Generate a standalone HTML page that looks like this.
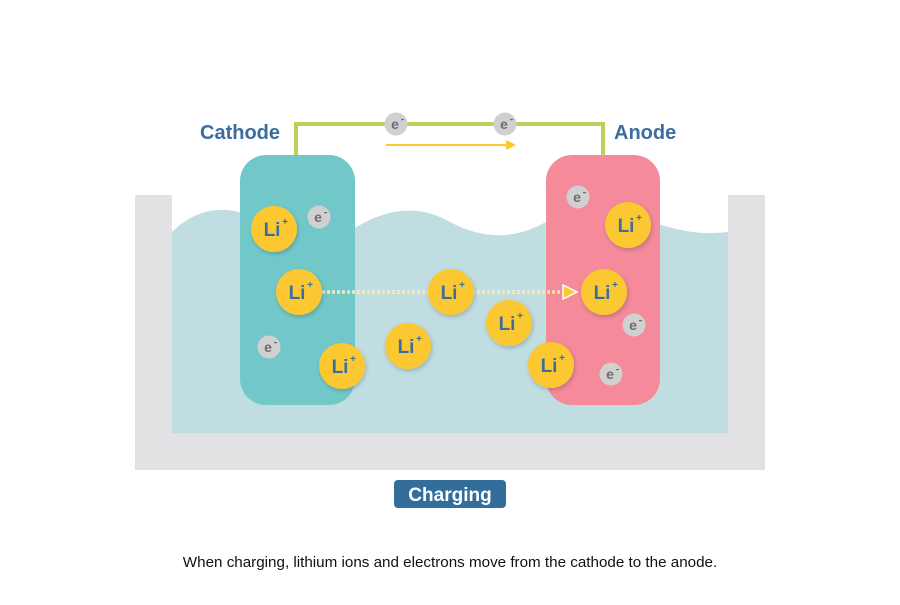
<!DOCTYPE html>
<html><head><style>
body{margin:0;background:#fff;}
svg text{font-family:"Liberation Sans",sans-serif;}
</style></head><body>
<svg width="900" height="600" viewBox="0 0 900 600" xmlns="http://www.w3.org/2000/svg">
<defs>
<filter id="sh" x="-30%" y="-30%" width="160%" height="160%"><feDropShadow dx="1" dy="2" stdDeviation="2" flood-color="#000" flood-opacity="0.2"/></filter>
<g id="li"><circle r="23" fill="#fbc830" filter="url(#sh)"/><text x="-2" y="7" font-size="19" font-weight="bold" fill="#3a6e9e" text-anchor="middle">Li</text><text x="11" y="-4" font-size="10" font-weight="bold" fill="#3a6e9e" text-anchor="middle">+</text></g>
<g id="e"><circle r="11.5" fill="#d0d0d0"/><text x="-1" y="5" font-size="14" font-weight="bold" fill="#6e6e6e" text-anchor="middle">e</text><rect x="5" y="-5" width="3" height="1.2" fill="#6e6e6e"/></g>
</defs>
<rect x="135" y="195" width="630" height="275" fill="#e2e2e4"/>
<rect x="172" y="195" width="556" height="238" fill="#fff"/>
<path d="M172 232 C200 205,230 205,260 220 C300 240,330 240,360 225 C390 208,420 205,450 222 C480 238,510 240,540 225 C570 210,600 205,640 218 C680 232,700 235,728 232 L728 433 L172 433 Z" fill="#c0dde1"/>
<rect x="240" y="155" width="115" height="250" rx="26" fill="#72c8c9"/>
<rect x="546" y="155" width="114" height="250" rx="26" fill="#f48a9a"/>
<path d="M296 155 V124 H603 V155" fill="none" stroke="#b9d35a" stroke-width="4"/>
<line x1="386" y1="145" x2="508" y2="145" stroke="#fbc830" stroke-width="2"/>
<path d="M506 140 L516 145 L506 150 Z" fill="#fbc830"/>
<use href="#e" x="396" y="124"/><use href="#e" x="505" y="124"/>
<text x="200" y="139" font-size="20" font-weight="bold" fill="#3a6e9e">Cathode</text>
<text x="614" y="139" font-size="20" font-weight="bold" fill="#3a6e9e">Anode</text>
<line x1="322" y1="292" x2="566" y2="292" stroke="#fff" stroke-width="3" stroke-dasharray="3 2"/>
<line x1="322" y1="292" x2="566" y2="292" stroke="#fbc830" stroke-width="1" stroke-dasharray="3 2"/>
<path d="M563 285 L577 292 L563 299 Z" fill="#fbc830" stroke="#fff" stroke-width="1.5"/>
<use href="#li" x="274" y="229"/><use href="#li" x="299" y="292"/><use href="#li" x="451" y="292"/>
<use href="#li" x="509" y="323"/><use href="#li" x="408" y="346"/><use href="#li" x="342" y="366"/>
<use href="#li" x="604" y="292"/><use href="#li" x="551" y="365"/><use href="#li" x="628" y="225"/>
<use href="#e" x="319" y="217"/><use href="#e" x="269" y="347"/><use href="#e" x="578" y="197"/>
<use href="#e" x="634" y="325"/><use href="#e" x="611" y="374"/>
<rect x="394" y="480" width="112" height="28" rx="4" fill="#336e9b"/>
<text x="450" y="501" font-size="19" font-weight="bold" fill="#fff" text-anchor="middle">Charging</text>
<text x="450" y="567" font-size="15.2" fill="#111" text-anchor="middle">When charging, lithium ions and electrons move from the cathode to the anode.</text>
</svg>
</body></html>
